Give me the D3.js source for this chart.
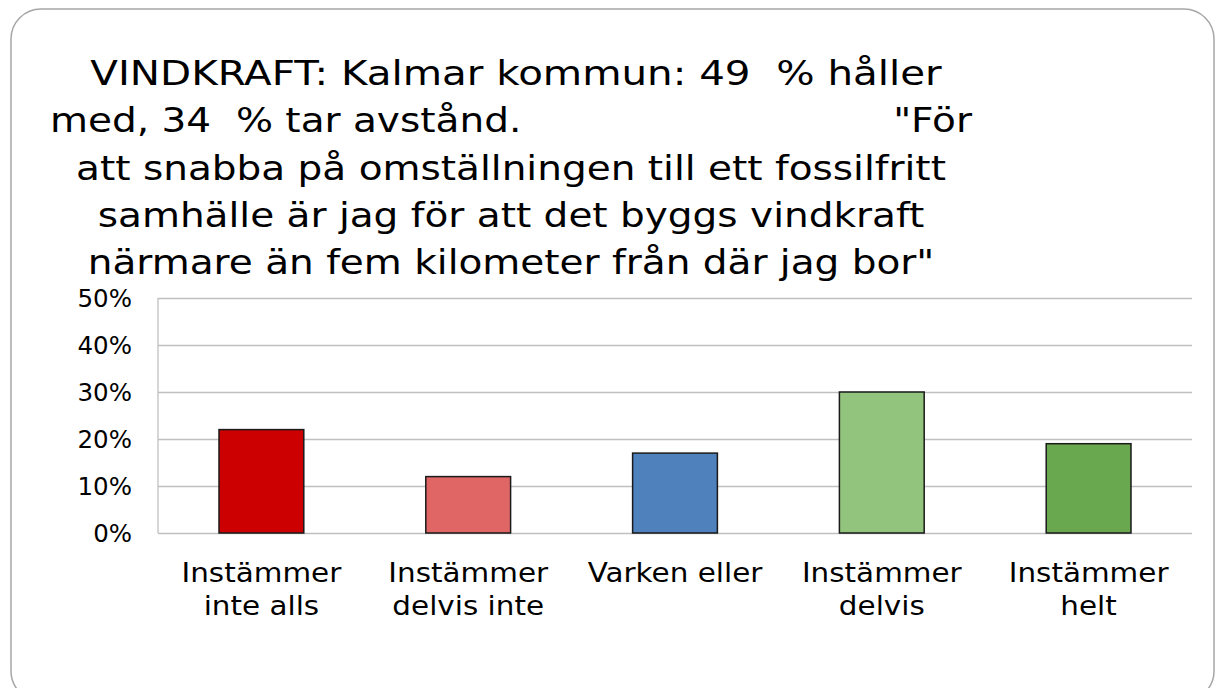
<!DOCTYPE html>
<html>
<head>
<meta charset="utf-8">
<script src="https://cdn.jsdelivr.net/npm/d3@7"></script>
<style>
  body { margin: 0; background: #fff; }
  svg { display: block; font-family: "DejaVu Sans", Verdana, sans-serif; }
  text { white-space: pre; }
</style>
</head>
<body>
<svg width="1216" height="688"></svg>
<script>
// Data
const categories = [["Instämmer", "inte alls"], ["Instämmer", "delvis inte"], ["Varken eller"], ["Instämmer", "delvis"], ["Instämmer", "helt"]];
const values = [0.22, 0.12, 0.17, 0.30, 0.19];
const colors = ["#cc0000", "#e06666", "#4f81bd", "#93c47d", "#6aa84f"];
const yTicks = [0, 0.1, 0.2, 0.3, 0.4, 0.5];
const titleLines = [
    "VINDKRAFT: Kalmar kommun: 49  % håller",
    "med, 34  % tar avstånd.                              \"För",
    "att snabba på omställningen till ett fossilfritt",
    "samhälle är jag för att det byggs vindkraft",
    "närmare än fem kilometer från där jag bor\""
];

const svg = d3.select("svg");

// frame
svg.append("rect")
    .attr("x", 11).attr("y", 9)
    .attr("width", 1203).attr("height", 692)
    .attr("rx", 30)
    .attr("fill", "#fff")
    .attr("stroke", "#a6a6a6")
    .attr("stroke-width", 1.5);

// plot area
const margin = {left: 158, right: 1192, top: 298, bottom: 533};

const x = d3.scaleBand()
    .domain(d3.range(values.length))
    .range([margin.left, margin.right]);

const y = d3.scaleLinear()
    .domain([0, 0.5])
    .range([margin.bottom, margin.top]);

// grid lines
const grid = svg.append("g")
    .attr("transform", "translate(" + margin.left + ",0)")
    .call(d3.axisLeft(y).tickValues(yTicks).tickSize(-(margin.right - margin.left)).tickFormat(""));
grid.select(".domain").remove();
grid.selectAll("line").attr("stroke", "#c0c0c0").attr("stroke-width", 1.3);

// value axis line
svg.append("line")
    .attr("x1", margin.left).attr("x2", margin.left)
    .attr("y1", margin.top).attr("y2", margin.bottom)
    .attr("stroke", "#c0c0c0").attr("stroke-width", 1.3);

// y labels
svg.append("g").selectAll("text")
    .data(yTicks)
    .join("text")
    .attr("x", 132)
    .attr("y", d => y(d) + 8.5)
    .attr("text-anchor", "end")
    .attr("font-size", 24.5)
    .attr("fill", "#000")
    .text(d => d3.format(".0%")(d));

// bars
const barW = x.bandwidth() * 0.41;
svg.append("g").selectAll("rect")
    .data(values)
    .join("rect")
    .attr("x", (d, i) => x(i) + (x.bandwidth() - barW) / 2)
    .attr("y", d => y(d))
    .attr("width", barW)
    .attr("height", d => y(0) - y(d))
    .attr("fill", (d, i) => colors[i])
    .attr("stroke", "#1a1a1a")
    .attr("stroke-width", 1.5);

// category labels
const cat = svg.append("g").selectAll("g")
    .data(categories)
    .join("g")
    .attr("transform", (d, i) => "translate(" + (x(i) + x.bandwidth() / 2) + ",0)");
cat.selectAll("text")
    .data(d => d)
    .join("text")
    .attr("transform", (d, j) => "translate(0," + (582 + j * 33) + ") scale(1.09,1)")
    .attr("text-anchor", "middle")
    .attr("font-size", 27)
    .attr("fill", "#000")
    .text(d => d);

// title (first line has wide capitals, stretch it a bit more)
svg.append("g").selectAll("text")
    .data(titleLines)
    .join("text")
    .attr("transform", (d, i) => "translate(" + (i === 0 ? 516 : 511) + "," + (85 + i * 47.3) + ") scale(" + (i === 0 ? 1.188 : 1.147) + ",1)")
    .attr("text-anchor", "middle")
    .attr("font-size", 34)
    .attr("fill", "#000")
    .text(d => d);
</script>
</body>
</html>
